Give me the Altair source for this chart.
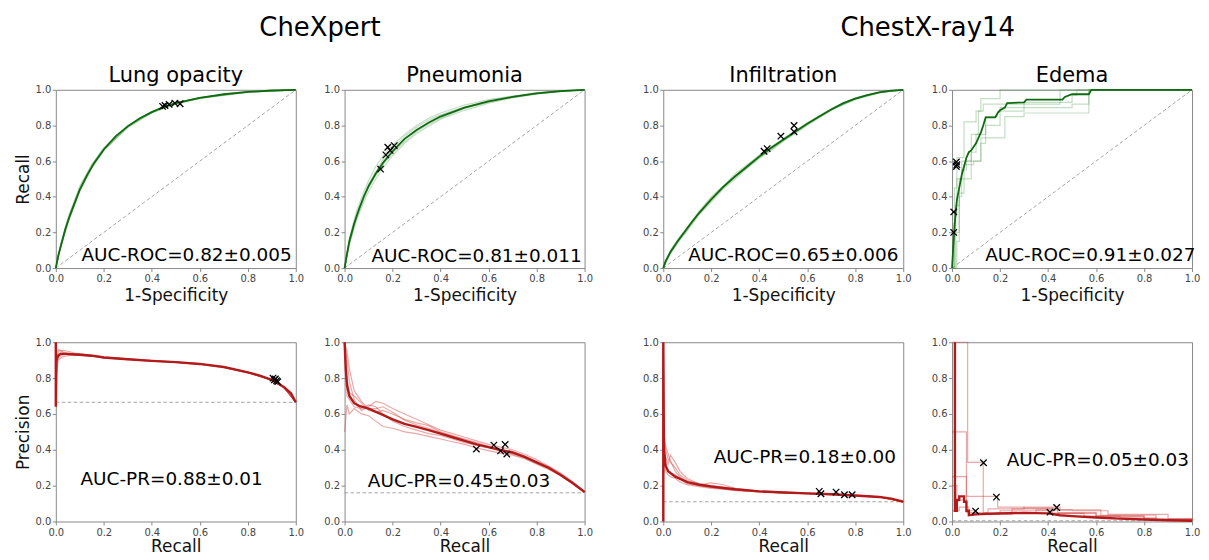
import altair as alt
import pandas as pd

FONT = "DejaVu Sans"
TICKS = [0.0, 0.2, 0.4, 0.6, 0.8, 1.0]

GROUP_TITLES = ["CheXpert", "ChestX-ray14"]
PANEL_TITLES = ["Lung opacity", "Pneumonia", "Infiltration", "Edema"]
ROC_LABELS = ["AUC-ROC=0.82±0.005", "AUC-ROC=0.81±0.011", "AUC-ROC=0.65±0.006", "AUC-ROC=0.91±0.027"]
PR_LABELS = ["AUC-PR=0.88±0.01", "AUC-PR=0.45±0.03", "AUC-PR=0.18±0.00", "AUC-PR=0.05±0.03"]
ROC_LABEL_X = [0.107, 0.112, 0.104, 0.138]
ROC_LABEL_Y = [0.04, 0.035, 0.04, 0.04]
PR_LABEL_X = [0.103, 0.097, 0.21, 0.228]
PR_LABEL_Y = [0.204, 0.19, 0.326, 0.31]
PREVALENCE = [0.665, 0.16, 0.11, 0.004]

# ---------------- ROC: Lung opacity ----------------
LO_ROC_X = [0, 0.01, 0.02, 0.04, 0.06, 0.08, 0.1, 0.13, 0.16, 0.2, 0.25, 0.3, 0.35, 0.4, 0.45, 0.5, 0.6, 0.7, 0.8, 0.9, 1]
LO_ROC_Y = [0, 0.07, 0.12, 0.22, 0.30, 0.37, 0.44, 0.52, 0.59, 0.665, 0.74, 0.795, 0.84, 0.875, 0.905, 0.925, 0.955, 0.975, 0.988, 0.996, 1]
LO_ROC_FX = [0, 0.02, 0.05, 0.1, 0.15, 0.2, 0.3, 0.4, 0.5, 0.6, 0.8, 1]
LO_ROC_F1 = [0, 0.13, 0.27, 0.45, 0.58, 0.67, 0.80, 0.875, 0.925, 0.955, 0.988, 1]
LO_ROC_F2 = [0, 0.11, 0.25, 0.43, 0.56, 0.66, 0.79, 0.87, 0.92, 0.95, 0.986, 1]
LO_ROC_F3 = [0, 0.12, 0.26, 0.44, 0.57, 0.665, 0.795, 0.878, 0.928, 0.957, 0.989, 1]
LO_ROC_F4 = [0, 0.125, 0.28, 0.46, 0.58, 0.675, 0.80, 0.876, 0.926, 0.956, 0.988, 1]
LO_ROC_F5 = [0, 0.115, 0.255, 0.435, 0.565, 0.66, 0.79, 0.872, 0.922, 0.953, 0.987, 1]
LO_ROC_MX = [0.445, 0.455, 0.472, 0.496, 0.518]
LO_ROC_MY = [0.907, 0.912, 0.918, 0.925, 0.922]

# ---------------- ROC: Pneumonia ----------------
PN_ROC_X = [0, 0.01, 0.02, 0.04, 0.06, 0.08, 0.1, 0.13, 0.16, 0.2, 0.25, 0.3, 0.35, 0.4, 0.5, 0.6, 0.7, 0.8, 0.9, 1]
PN_ROC_Y = [0, 0.08, 0.15, 0.25, 0.33, 0.40, 0.46, 0.53, 0.59, 0.655, 0.725, 0.775, 0.815, 0.85, 0.90, 0.935, 0.96, 0.98, 0.993, 1]
PN_ROC_FX = [0, 0.02, 0.05, 0.08, 0.1, 0.13, 0.16, 0.2, 0.25, 0.3, 0.35, 0.4, 0.5, 0.6, 0.7, 0.8, 0.9, 1]
PN_ROC_F1 = [0, 0.17, 0.32, 0.43, 0.49, 0.57, 0.63, 0.69, 0.75, 0.80, 0.84, 0.87, 0.915, 0.945, 0.965, 0.985, 0.995, 1]
PN_ROC_F2 = [0, 0.13, 0.27, 0.37, 0.43, 0.50, 0.56, 0.63, 0.70, 0.755, 0.795, 0.835, 0.885, 0.925, 0.955, 0.975, 0.99, 1]
PN_ROC_F3 = [0, 0.16, 0.30, 0.41, 0.47, 0.54, 0.61, 0.67, 0.74, 0.79, 0.83, 0.86, 0.905, 0.94, 0.962, 0.98, 0.994, 1]
PN_ROC_F4 = [0, 0.14, 0.28, 0.39, 0.45, 0.52, 0.58, 0.645, 0.71, 0.765, 0.805, 0.84, 0.895, 0.93, 0.958, 0.978, 0.992, 1]
PN_ROC_F5 = [0, 0.15, 0.29, 0.40, 0.46, 0.53, 0.595, 0.655, 0.725, 0.775, 0.82, 0.855, 0.90, 0.935, 0.96, 0.98, 0.993, 1]
PN_ROC_MX = [0.15, 0.172, 0.18, 0.19, 0.207]
PN_ROC_MY = [0.555, 0.635, 0.678, 0.66, 0.687]

# ---------------- ROC: Infiltration ----------------
IN_ROC_X = [0, 0.01, 0.03, 0.06, 0.09, 0.12, 0.15, 0.2, 0.25, 0.3, 0.35, 0.4, 0.45, 0.5, 0.55, 0.6, 0.65, 0.7, 0.75, 0.8, 0.85, 0.9, 0.95, 1]
IN_ROC_Y = [0, 0.04, 0.09, 0.15, 0.205, 0.26, 0.31, 0.385, 0.455, 0.515, 0.57, 0.625, 0.675, 0.72, 0.765, 0.81, 0.85, 0.89, 0.925, 0.95, 0.97, 0.985, 0.995, 1]
IN_ROC_FX = [0, 0.03, 0.06, 0.1, 0.15, 0.2, 0.25, 0.3, 0.35, 0.4, 0.45, 0.5, 0.55, 0.6, 0.7, 0.8, 0.9, 1]
IN_ROC_F1 = [0, 0.10, 0.16, 0.23, 0.32, 0.40, 0.46, 0.53, 0.58, 0.63, 0.68, 0.725, 0.77, 0.815, 0.895, 0.955, 0.988, 1]
IN_ROC_F2 = [0, 0.08, 0.14, 0.21, 0.30, 0.37, 0.445, 0.50, 0.56, 0.615, 0.66, 0.715, 0.755, 0.80, 0.885, 0.945, 0.983, 1]
IN_ROC_F3 = [0, 0.09, 0.155, 0.22, 0.315, 0.39, 0.46, 0.52, 0.575, 0.635, 0.675, 0.725, 0.77, 0.81, 0.89, 0.95, 0.986, 1]
IN_ROC_F4 = [0, 0.085, 0.145, 0.215, 0.305, 0.38, 0.45, 0.51, 0.565, 0.62, 0.665, 0.71, 0.76, 0.805, 0.888, 0.948, 0.985, 1]
IN_ROC_F5 = [0, 0.095, 0.15, 0.225, 0.31, 0.385, 0.455, 0.515, 0.57, 0.625, 0.67, 0.72, 0.765, 0.81, 0.89, 0.952, 0.986, 1]
IN_ROC_MX = [0.42, 0.433, 0.49, 0.545, 0.545]
IN_ROC_MY = [0.655, 0.67, 0.74, 0.80, 0.765]

# ---------------- ROC: Edema ----------------
ED_ROC_X = [0, 0.005, 0.01, 0.015, 0.02, 0.03, 0.04, 0.05, 0.06, 0.07, 0.08, 0.09, 0.1, 0.11, 0.12, 0.13, 0.14, 0.18, 0.19, 0.2, 0.22, 0.23, 0.3, 0.31, 0.46, 0.47, 0.5, 0.57, 0.58, 1]
ED_ROC_Y = [0, 0.12, 0.22, 0.31, 0.38, 0.45, 0.52, 0.57, 0.62, 0.65, 0.66, 0.68, 0.70, 0.73, 0.76, 0.80, 0.845, 0.845, 0.87, 0.885, 0.90, 0.925, 0.93, 0.945, 0.945, 0.96, 0.975, 0.975, 1.0, 1.0]
ED_ROC_F1X = [0, 0.005, 0.01, 0.02, 0.05, 0.1, 0.12, 0.2, 1]
ED_ROC_F1Y = [0, 0.25, 0.45, 0.62, 0.82, 0.88, 0.95, 1.0, 1.0]
ED_ROC_F2X = [0, 0.01, 0.02, 0.04, 0.08, 0.11, 0.13, 0.45, 1]
ED_ROC_F2Y = [0, 0.3, 0.5, 0.6, 0.75, 0.88, 0.92, 1.0, 1.0]
ED_ROC_F3X = [0, 0.01, 0.03, 0.04, 0.06, 0.12, 0.14, 0.2, 0.5, 0.57, 1]
ED_ROC_F3Y = [0, 0.2, 0.4, 0.55, 0.6, 0.7, 0.8, 0.9, 0.92, 1.0, 1.0]
ED_ROC_F4X = [0, 0.015, 0.03, 0.08, 0.1, 0.14, 0.19, 0.3, 0.5, 0.52, 1]
ED_ROC_F4Y = [0, 0.35, 0.5, 0.65, 0.75, 0.85, 0.88, 0.93, 0.97, 1.0, 1.0]
ED_ROC_F5X = [0, 0.02, 0.03, 0.05, 0.09, 0.12, 0.22, 0.3, 0.57, 1]
ED_ROC_F5Y = [0, 0.15, 0.42, 0.58, 0.6, 0.73, 0.85, 0.87, 1.0, 1.0]
ED_ROC_MX = [0.007, 0.007, 0.018, 0.018, 0.02]
ED_ROC_MY = [0.20, 0.315, 0.595, 0.57, 0.58]

# ---------------- PR: Lung opacity ----------------
LO_PR_X = [0, 0, 0.003, 0.01, 0.02, 0.05, 0.1, 0.15, 0.2, 0.3, 0.4, 0.5, 0.6, 0.7, 0.8, 0.85, 0.9, 0.95, 0.98, 1.0]
LO_PR_Y = [1.0, 0.64, 0.90, 0.925, 0.935, 0.935, 0.93, 0.925, 0.915, 0.905, 0.896, 0.889, 0.879, 0.862, 0.832, 0.814, 0.79, 0.75, 0.715, 0.665]
LO_PR_FX = [0, 0.001, 0.01, 0.03, 0.05, 0.08, 0.1, 0.15, 0.2, 0.3, 0.4, 0.5, 0.6, 0.7, 0.8, 0.9, 0.95, 1]
LO_PR_F1 = [1.0, 0.88, 0.95, 0.955, 0.95, 0.94, 0.935, 0.928, 0.918, 0.907, 0.898, 0.89, 0.88, 0.863, 0.833, 0.79, 0.75, 0.665]
LO_PR_F2 = [1.0, 0.80, 0.90, 0.92, 0.925, 0.93, 0.93, 0.925, 0.915, 0.904, 0.895, 0.888, 0.878, 0.861, 0.831, 0.789, 0.749, 0.665]
LO_PR_F3 = [1.0, 0.93, 0.96, 0.945, 0.94, 0.935, 0.935, 0.926, 0.916, 0.906, 0.897, 0.889, 0.879, 0.862, 0.832, 0.79, 0.751, 0.665]
LO_PR_F4 = [1.0, 0.86, 0.915, 0.93, 0.935, 0.93, 0.928, 0.922, 0.913, 0.903, 0.894, 0.887, 0.877, 0.86, 0.83, 0.788, 0.748, 0.665]
LO_PR_F5 = [1.0, 0.90, 0.94, 0.94, 0.93, 0.925, 0.93, 0.924, 0.914, 0.905, 0.896, 0.889, 0.879, 0.862, 0.832, 0.79, 0.75, 0.665]
LO_PR_MX = [0.905, 0.91, 0.915, 0.92, 0.925]
LO_PR_MY = [0.80, 0.79, 0.795, 0.785, 0.78]

# ---------------- PR: Pneumonia ----------------
PN_PR_X = [0, 0.005, 0.01, 0.02, 0.04, 0.06, 0.1, 0.15, 0.2, 0.25, 0.3, 0.35, 0.4, 0.45, 0.5, 0.55, 0.6, 0.65, 0.7, 0.75, 0.8, 0.85, 0.9, 0.95, 1.0]
PN_PR_Y = [1.0, 0.85, 0.76, 0.70, 0.66, 0.645, 0.63, 0.60, 0.57, 0.545, 0.528, 0.51, 0.49, 0.47, 0.45, 0.43, 0.415, 0.40, 0.385, 0.36, 0.33, 0.30, 0.26, 0.215, 0.165]
PN_PR_FX = [0, 0.01, 0.02, 0.04, 0.07, 0.1, 0.13, 0.16, 0.2, 0.25, 0.3, 0.35, 0.4, 0.45, 0.5, 0.55, 0.6, 0.65, 0.7, 0.75, 0.8, 0.85, 0.9, 0.95, 1]
PN_PR_F1 = [1.0, 0.9, 0.78, 0.68, 0.62, 0.64, 0.67, 0.66, 0.63, 0.60, 0.57, 0.54, 0.51, 0.49, 0.47, 0.45, 0.43, 0.415, 0.40, 0.375, 0.345, 0.31, 0.27, 0.22, 0.165]
PN_PR_F2 = [0.5, 0.65, 0.6, 0.63, 0.60, 0.59, 0.56, 0.53, 0.52, 0.50, 0.49, 0.475, 0.46, 0.445, 0.43, 0.41, 0.395, 0.38, 0.37, 0.35, 0.32, 0.29, 0.255, 0.21, 0.165]
PN_PR_F3 = [1.0, 0.8, 0.72, 0.70, 0.66, 0.62, 0.61, 0.62, 0.60, 0.57, 0.55, 0.535, 0.50, 0.48, 0.46, 0.44, 0.42, 0.40, 0.39, 0.365, 0.335, 0.305, 0.265, 0.22, 0.165]
PN_PR_F4 = [1.0, 0.7, 0.68, 0.64, 0.63, 0.65, 0.64, 0.6, 0.56, 0.53, 0.51, 0.49, 0.48, 0.46, 0.44, 0.425, 0.41, 0.395, 0.375, 0.355, 0.325, 0.295, 0.26, 0.215, 0.165]
PN_PR_F5 = [1.0, 0.95, 0.85, 0.73, 0.67, 0.63, 0.63, 0.64, 0.61, 0.565, 0.54, 0.52, 0.495, 0.475, 0.455, 0.435, 0.415, 0.39, 0.38, 0.36, 0.33, 0.30, 0.262, 0.215, 0.165]
PN_PR_MX = [0.549, 0.622, 0.669, 0.65, 0.676]
PN_PR_MY = [0.404, 0.426, 0.43, 0.394, 0.376]

# ---------------- PR: Infiltration ----------------
IN_PR_X = [0, 0, 0.003, 0.01, 0.02, 0.05, 0.1, 0.15, 0.2, 0.3, 0.4, 0.5, 0.6, 0.7, 0.8, 0.9, 0.95, 1.0]
IN_PR_Y = [0, 1.0, 0.40, 0.31, 0.28, 0.25, 0.22, 0.205, 0.195, 0.18, 0.168, 0.162, 0.157, 0.152, 0.145, 0.137, 0.128, 0.11]
IN_PR_FX = [0, 0.005, 0.01, 0.02, 0.03, 0.05, 0.07, 0.1, 0.15, 0.2, 0.25, 0.3, 0.4, 0.5, 0.6, 0.7, 0.8, 0.9, 1]
IN_PR_F1 = [0.67, 0.45, 0.40, 0.35, 0.33, 0.30, 0.26, 0.23, 0.21, 0.20, 0.19, 0.18, 0.17, 0.163, 0.157, 0.152, 0.145, 0.137, 0.11]
IN_PR_F2 = [0.4, 0.47, 0.42, 0.38, 0.34, 0.28, 0.25, 0.22, 0.205, 0.215, 0.205, 0.185, 0.17, 0.165, 0.158, 0.153, 0.146, 0.138, 0.11]
IN_PR_F3 = [0.3, 0.35, 0.32, 0.29, 0.27, 0.26, 0.24, 0.21, 0.20, 0.19, 0.18, 0.175, 0.165, 0.16, 0.155, 0.15, 0.144, 0.136, 0.11]
IN_PR_F4 = [0.5, 0.42, 0.36, 0.32, 0.37, 0.33, 0.28, 0.24, 0.21, 0.195, 0.185, 0.178, 0.168, 0.162, 0.156, 0.151, 0.145, 0.137, 0.11]
IN_PR_F5 = [0.25, 0.30, 0.28, 0.26, 0.25, 0.24, 0.22, 0.205, 0.195, 0.185, 0.18, 0.172, 0.165, 0.16, 0.155, 0.15, 0.144, 0.136, 0.11]
IN_PR_MX = [0.65, 0.657, 0.72, 0.755, 0.787]
IN_PR_MY = [0.168, 0.155, 0.164, 0.149, 0.149]

# ---------------- PR: Edema ----------------
ED_PR_X = [0.012, 0.012, 0.02, 0.02, 0.03, 0.03, 0.05, 0.05, 0.06, 0.06, 0.07, 0.07, 0.1, 0.2, 0.3, 0.4, 0.45, 0.5, 0.6, 0.7, 0.8, 0.9, 1.0]
ED_PR_Y = [1.0, 0.06, 0.06, 0.12, 0.12, 0.14, 0.14, 0.11, 0.11, 0.06, 0.06, 0.035, 0.04, 0.045, 0.048, 0.045, 0.035, 0.03, 0.022, 0.016, 0.011, 0.007, 0.004]
ED_PR_F1X = [0, 0.065, 0.13, 0.2, 0.4, 0.6, 0.8, 1.0]
ED_PR_F1Y = [1.0, 0.33, 0.05, 0.06, 0.045, 0.03, 0.015, 0.005]
ED_PR_F2X = [0, 0.06, 0.19, 0.3, 0.42, 0.55, 0.7, 0.85, 1.0]
ED_PR_F2Y = [0.5, 0.14, 0.08, 0.075, 0.045, 0.03, 0.02, 0.01, 0.005]
ED_PR_F3X = [0, 0.06, 0.1, 0.25, 0.44, 0.6, 0.8, 1.0]
ED_PR_F3Y = [0.25, 0.06, 0.04, 0.07, 0.05, 0.03, 0.012, 0.005]
ED_PR_F4X = [0, 0.02, 0.06, 0.15, 0.3, 0.45, 0.62, 0.85, 1.0]
ED_PR_F4Y = [0.2, 0.12, 0.05, 0.07, 0.08, 0.065, 0.035, 0.01, 0.005]
ED_PR_F5X = [0, 0.03, 0.07, 0.2, 0.35, 0.5, 0.65, 0.9, 1.0]
ED_PR_F5Y = [0.06, 0.08, 0.04, 0.05, 0.065, 0.06, 0.04, 0.015, 0.005]
ED_PR_MX = [0.131, 0.185, 0.098, 0.408, 0.436]
ED_PR_MY = [0.328, 0.136, 0.058, 0.052, 0.078]

# ---------------- styling ----------------
W = 241
H_ROW = [179, 180]
GAPS = [48.5, 79, 49]
ROW_GAP = 74.5
ROC_MEAN, ROC_FOLD = "#0f6b0f", "#5a9e5a"
PR_MEAN, PR_FOLD = "#b31b1b", "#d04040"
XPATH = "M -1 -1 L 1 1 M -1 1 L 1 -1"
PANEL_TITLE_OFFSET = -18.5
GROUP_TITLE_OFFSET = 28


def line_df(xs, ys):
    return pd.DataFrame({"i": list(range(len(xs))), "x": xs, "y": ys})


def folds_df(xlists, ylists):
    frames = []
    for f, (xs, ys) in enumerate(zip(xlists, ylists)):
        d = line_df(xs, ys)
        d["fold"] = f
        frames.append(d)
    return pd.concat(frames, ignore_index=True)


def axis(title, title_pad, orient):
    kw = dict(values=TICKS, format=".1f", grid=False, domain=False, ticks=True,
              tickSize=3.5, tickColor="#888", labelFontSize=10, labelColor="#444",
              labelFont=FONT, titleFont=FONT, titleFontSize=17,
              titleFontWeight="normal", titleColor="#111", labelFlush=False,
              labelPadding=2.5 if orient == "x" else 1.5, titlePadding=title_pad)
    if title:
        kw["title"] = title
    else:
        kw["title"] = None
    return alt.Axis(**kw)


def panel(title, row, xtitle, ytitle, xpad, fold_x, fold_y, fold_interp,
          mean_x, mean_y, mk_x, mk_y, ref_x, ref_y, label, lx, ly, roc):
    sc = alt.Scale(domain=[0, 1], nice=False, zero=False)
    X = alt.X("x:Q", scale=sc, axis=axis(xtitle, xpad, "x"))
    Y = alt.Y("y:Q", scale=sc, axis=axis(ytitle, 3, "y"))
    mc, fc = (ROC_MEAN, ROC_FOLD) if roc else (PR_MEAN, PR_FOLD)
    fo = 0.35 if roc else 0.45
    mw = 1.8 if roc else 2.4
    ref = alt.Chart(line_df(ref_x, ref_y)).mark_line(
        color="#999", strokeDash=[3.5, 2.5], strokeWidth=0.9
    ).encode(x=X, y=Y, order="i:Q")
    folds = alt.Chart(folds_df(fold_x, fold_y)).mark_line(
        color=fc, opacity=fo, strokeWidth=1.2, interpolate=fold_interp
    ).encode(x=X, y=Y, detail="fold:N", order="i:Q")
    mean = alt.Chart(line_df(mean_x, mean_y)).mark_line(
        color=mc, strokeWidth=mw
    ).encode(x=X, y=Y, order="i:Q")
    mk = alt.Chart(pd.DataFrame({"x": mk_x, "y": mk_y})).mark_point(
        shape=XPATH, filled=False, color="black", strokeWidth=1.3, size=42, opacity=1
    ).encode(x=X, y=Y)
    txt = alt.Chart(pd.DataFrame({"x": [lx], "y": [ly], "t": [label]})).mark_text(
        align="left", baseline="alphabetic", fontSize=18.5, font=FONT, color="black"
    ).encode(x=X, y=Y, text="t:N")
    layers = [ref, folds, mean, mk, txt]
    props = dict(width=W, height=H_ROW[row])
    if title:
        props["title"] = alt.TitleParams(title, fontSize=21, font=FONT, fontWeight="normal",
                                         color="black", anchor="middle",
                                         offset=PANEL_TITLE_OFFSET, baseline="alphabetic")
    return alt.layer(*layers).properties(**props)


def spacer(w, row, title=None):
    c = alt.Chart(pd.DataFrame({"a": [0]})).mark_point(opacity=0, size=0).encode(
        x=alt.X("a:Q", axis=None), y=alt.Y("a:Q", axis=None)
    )
    props = dict(width=w, height=H_ROW[row], view=alt.ViewBackground(stroke="transparent"))
    if title:
        props["title"] = alt.TitleParams(title, fontSize=26, font=FONT, fontWeight="normal",
                                         color="black", anchor="middle",
                                         offset=GROUP_TITLE_OFFSET, baseline="alphabetic")
    return c.properties(**props)


diag = ([0, 1], [0, 1])
roc_specs = [
    ([LO_ROC_FX] * 5, [LO_ROC_F1, LO_ROC_F2, LO_ROC_F3, LO_ROC_F4, LO_ROC_F5], "linear",
     LO_ROC_X, LO_ROC_Y, LO_ROC_MX, LO_ROC_MY),
    ([PN_ROC_FX] * 5, [PN_ROC_F1, PN_ROC_F2, PN_ROC_F3, PN_ROC_F4, PN_ROC_F5], "linear",
     PN_ROC_X, PN_ROC_Y, PN_ROC_MX, PN_ROC_MY),
    ([IN_ROC_FX] * 5, [IN_ROC_F1, IN_ROC_F2, IN_ROC_F3, IN_ROC_F4, IN_ROC_F5], "linear",
     IN_ROC_X, IN_ROC_Y, IN_ROC_MX, IN_ROC_MY),
    ([ED_ROC_F1X, ED_ROC_F2X, ED_ROC_F3X, ED_ROC_F4X, ED_ROC_F5X],
     [ED_ROC_F1Y, ED_ROC_F2Y, ED_ROC_F3Y, ED_ROC_F4Y, ED_ROC_F5Y], "step-after",
     ED_ROC_X, ED_ROC_Y, ED_ROC_MX, ED_ROC_MY),
]
pr_specs = [
    ([LO_PR_FX] * 5, [LO_PR_F1, LO_PR_F2, LO_PR_F3, LO_PR_F4, LO_PR_F5], "linear",
     LO_PR_X, LO_PR_Y, LO_PR_MX, LO_PR_MY),
    ([PN_PR_FX] * 5, [PN_PR_F1, PN_PR_F2, PN_PR_F3, PN_PR_F4, PN_PR_F5], "linear",
     PN_PR_X, PN_PR_Y, PN_PR_MX, PN_PR_MY),
    ([IN_PR_FX] * 5, [IN_PR_F1, IN_PR_F2, IN_PR_F3, IN_PR_F4, IN_PR_F5], "linear",
     IN_PR_X, IN_PR_Y, IN_PR_MX, IN_PR_MY),
    ([ED_PR_F1X, ED_PR_F2X, ED_PR_F3X, ED_PR_F4X, ED_PR_F5X],
     [ED_PR_F1Y, ED_PR_F2Y, ED_PR_F3Y, ED_PR_F4Y, ED_PR_F5Y], "step-after",
     ED_PR_X, ED_PR_Y, ED_PR_MX, ED_PR_MY),
]

row1 = []
row2 = []
for k in range(4):
    fx, fy, interp, mx, my, kx, ky = roc_specs[k]
    row1.append(panel(PANEL_TITLES[k], 0, "1-Specificity", "Recall" if k == 0 else None, 4,
                      fx, fy, interp, mx, my, kx, ky, diag[0], diag[1],
                      ROC_LABELS[k], ROC_LABEL_X[k], ROC_LABEL_Y[k], True))
    fx, fy, interp, mx, my, kx, ky = pr_specs[k]
    row2.append(panel(None, 1, "Recall", "Precision" if k == 0 else None, 1,
                      fx, fy, interp, mx, my, kx, ky, [0, 1], [PREVALENCE[k]] * 2,
                      PR_LABELS[k], PR_LABEL_X[k], PR_LABEL_Y[k], False))

cells = [
    row1[0], spacer(GAPS[0], 0, GROUP_TITLES[0]), row1[1], spacer(GAPS[1], 0), row1[2],
    spacer(GAPS[2], 0, GROUP_TITLES[1]), row1[3],
    row2[0], spacer(GAPS[0], 1), row2[1], spacer(GAPS[1], 1), row2[2],
    spacer(GAPS[2], 1), row2[3],
]

chart = alt.concat(
    *cells, columns=7, spacing={"row": ROW_GAP, "column": 0}, bounds="flush", align="each"
).properties(
    padding={"left": 5, "top": 5, "right": 0, "bottom": 0}
).configure_view(stroke="#888", strokeWidth=1)

chart.save("out.html", embed_options={"renderer": "svg", "actions": False})
